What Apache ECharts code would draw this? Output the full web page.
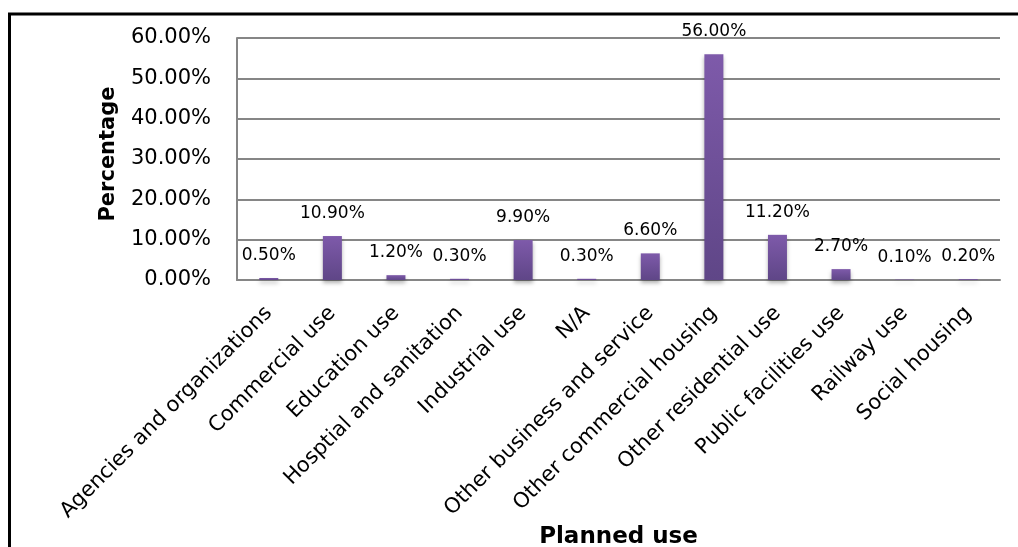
<!DOCTYPE html>
<html>
<head>
<meta charset="utf-8">
<script src="https://cdn.jsdelivr.net/npm/echarts@6/dist/echarts.min.js"></script>
<style>html,body{margin:0;padding:0;background:#fff}#c{width:1018px;height:547px}</style>
</head>
<body>
<div id="c"></div>
<script>
const categories = ["Agencies and organizations","Commercial use","Education use","Hosptial and sanitation","Industrial use","N/A","Other business and service","Other commercial housing","Other residential use","Public facilities use","Railway use","Social housing"];
const values = [0.5, 10.9, 1.2, 0.3, 9.9, 0.3, 6.6, 56.0, 11.2, 2.7, 0.1, 0.2];
const yTicks = [0, 10, 20, 30, 40, 50, 60];

const chart = echarts.init(document.getElementById('c'), null, {renderer: 'canvas'});
const FONT = 'DejaVu Sans';
chart.setOption({
  backgroundColor: '#fff',
  animation: false,
  graphic: [{
    type: 'rect', silent: true,
    shape: {x: 9.5, y: 14, width: 1100, height: 600},
    style: {fill: 'none', stroke: '#000', lineWidth: 3}
  }],
  grid: {left: 237, right: 18, top: 38, bottom: 267, containLabel: false, outerBoundsMode: 'none'},
  xAxis: {
    type: 'category',
    data: categories,
    name: 'Planned use',
    nameLocation: 'middle',
    nameGap: 243,
    nameTextStyle: {fontFamily: FONT, fontSize: 23, fontWeight: 'bold', color: '#000'},
    axisLine: {lineStyle: {color: '#868686', width: 2}},
    axisTick: {show: false},
    axisLabel: {rotate: 45, interval: 0, fontFamily: FONT, fontSize: 21, color: '#000', margin: 30}
  },
  yAxis: {
    type: 'value',
    min: yTicks[0], max: yTicks[yTicks.length - 1], interval: 10,
    name: 'Percentage',
    nameLocation: 'middle',
    nameGap: 118,
    nameRotate: 90,
    nameTextStyle: {fontFamily: FONT, fontSize: 21, fontWeight: 'bold', color: '#000', padding: [0, 0, 0, 10]},
    axisLine: {show: true, lineStyle: {color: '#868686', width: 2}},
    axisTick: {show: false},
    splitLine: {lineStyle: {color: '#868686', width: 2}},
    axisLabel: {fontFamily: FONT, fontSize: 21, color: '#000', margin: 26,
      formatter: v => v.toFixed(2) + '%'}
  },
  series: [{
    type: 'bar',
    data: values,
    barWidth: 19,
    itemStyle: {
      color: new echarts.graphic.LinearGradient(0, 0, 0, 1, [
        {offset: 0, color: '#7E5AAA'},
        {offset: 1, color: '#5F4687'}
      ]),
      shadowBlur: 4, shadowOffsetY: 3, shadowColor: 'rgba(0,0,0,0.3)'
    },
    label: {
      show: true, position: 'top', distance: 14,
      fontFamily: FONT, fontSize: 17, color: '#000',
      formatter: p => p.value.toFixed(2) + '%'
    }
  }]
});
</script>
</body>
</html>
